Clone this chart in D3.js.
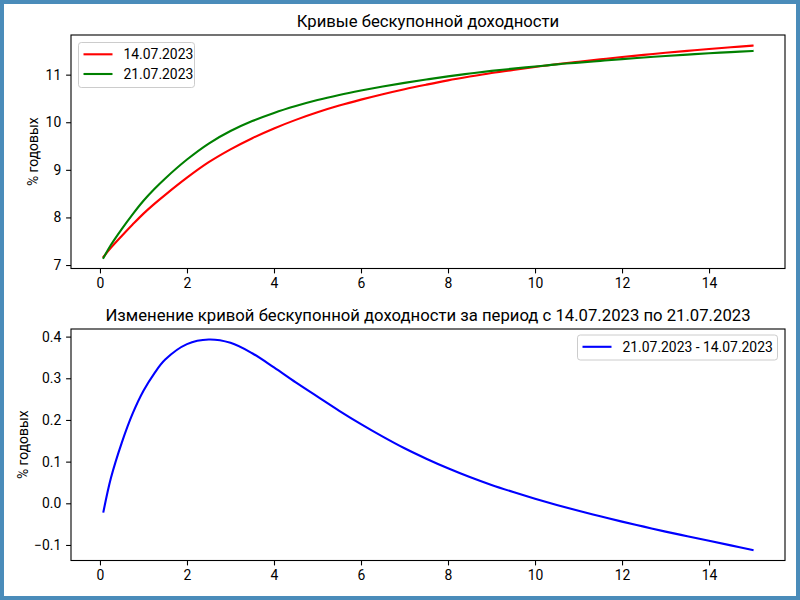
<!DOCTYPE html>
<html><head><meta charset="utf-8">
<script src="https://cdn.jsdelivr.net/npm/d3@7"></script>
<style>
html,body{margin:0;padding:0;background:#fff;}
svg{display:block;font-family:Roboto,"DejaVu Sans",sans-serif;}
</style></head>
<body>
<script>
const terms = [0.08,0.25,0.5,0.75,1.0,1.25,1.5,2.0,2.5,3.0,3.5,4.0,4.5,5.0,5.5,6.0,6.5,7.0,7.5,8.0,8.5,9.0,9.5,10.0,10.5,11.0,11.5,12.0,12.5,13.0,13.5,14.0,14.5,15.0];
const curve14 = [7.17,7.36,7.61,7.85,8.08,8.285,8.475,8.835,9.16,9.43,9.665,9.87,10.05,10.21,10.35,10.475,10.59,10.695,10.79,10.88,10.96,11.035,11.10,11.16,11.22,11.27,11.32,11.37,11.415,11.46,11.50,11.54,11.575,11.61];
const curve21 = [7.15,7.42,7.755,8.065,8.35,8.597,8.82,9.217,9.553,9.815,10.025,10.196,10.34,10.466,10.572,10.665,10.75,10.827,10.897,10.964,11.023,11.079,11.127,11.171,11.216,11.252,11.289,11.326,11.359,11.392,11.421,11.45,11.474,11.498];
const curveDiff = [-0.02,0.06,0.145,0.215,0.27,0.312,0.345,0.382,0.393,0.385,0.36,0.326,0.29,0.256,0.222,0.19,0.16,0.132,0.107,0.084,0.063,0.044,0.027,0.011,-0.004,-0.018,-0.031,-0.044,-0.056,-0.068,-0.079,-0.09,-0.101,-0.112];
const xTicks = [0,2,4,6,8,10,12,14];
const yTicksTop = [7,8,9,10,11];
const yTicksBottom = [-0.1,0.0,0.1,0.2,0.3,0.4];
const labels = ["14.07.2023","21.07.2023","21.07.2023 - 14.07.2023"];
const titles = ["Кривые бескупонной доходности","Изменение кривой бескупонной доходности за период с 14.07.2023 по 21.07.2023"];
const yLabel = "% годовых";

const W=800,H=600;
const svg=d3.select("body").append("svg").attr("width",W).attr("height",H);
svg.append("rect").attr("x",0).attr("y",0).attr("width",W).attr("height",H).attr("fill","#4a8cba");
svg.append("rect").attr("x",4).attr("y",4).attr("width",W-8).attr("height",H-8).attr("fill","#fff");

function padded(ext){const r=ext[1]-ext[0];return [ext[0]-0.05*r,ext[1]+0.05*r];}

function panel(o){
  const g=svg.append("g");
  const x=d3.scaleLinear().domain(padded(d3.extent(terms))).range([o.left,o.right]);
  const allY=[].concat(...o.series.map(s=>s.values));
  const y=d3.scaleLinear().domain(padded(d3.extent(allY))).range([o.bottom,o.top]);
  const fs=13.9;
  const xa=g.append("g").attr("transform",`translate(0,${o.bottom})`)
    .call(d3.axisBottom(x).tickValues(xTicks).tickSize(4.9).tickPadding(4.9).tickFormat(d3.format("d")));
  const ya=g.append("g").attr("transform",`translate(${o.left},0)`)
    .call(d3.axisLeft(y).tickValues(o.yTicks).tickSize(4.9).tickPadding(4.9).tickFormat(o.fmt));
  [xa,ya].forEach(a=>{a.select(".domain").remove();a.selectAll("line").attr("stroke","#000").attr("stroke-width",1.1);
    a.selectAll("text").attr("font-size",fs).attr("fill","#000").attr("font-family","Roboto");});
  const line=d3.line().curve(d3.curveCatmullRom.alpha(0.5));
  o.series.forEach(s=>{
    g.append("path").attr("d",line(terms.map((t,i)=>[x(t),y(s.values[i])])))
      .attr("fill","none").attr("stroke",s.color).attr("stroke-width",2.1).attr("stroke-linecap","square");
  });
  g.append("rect").attr("x",o.left).attr("y",o.top).attr("width",o.right-o.left).attr("height",o.bottom-o.top)
    .attr("fill","none").attr("stroke","#000").attr("stroke-width",1.1);
  g.append("text").attr("x",(o.left+o.right)/2).attr("y",o.top-8.5).attr("text-anchor","middle")
    .attr("font-size",16.7).attr("fill","#000").text(o.title);
  g.append("text").attr("transform",`translate(${o.ylx},${(o.top+o.bottom)/2}) rotate(-90)`)
    .attr("text-anchor","middle").attr("dominant-baseline","central").attr("font-size",fs).attr("fill","#000").text(yLabel);
  const L=o.legend;
  const lg=g.append("g");
  lg.append("rect").attr("x",L.x).attr("y",L.y).attr("width",L.w).attr("height",L.h).attr("rx",2.8)
    .attr("fill","#fff").attr("fill-opacity",0.8).attr("stroke","#cccccc").attr("stroke-width",1);
  o.series.forEach((s,i)=>{
    const cy=L.y+L.first+i*L.step;
    lg.append("line").attr("x1",L.x+5).attr("x2",L.x+34).attr("y1",cy).attr("y2",cy)
      .attr("stroke",s.color).attr("stroke-width",2.1);
    lg.append("text").attr("x",L.x+45).attr("y",cy).attr("dominant-baseline","central")
      .attr("font-size",fs).attr("fill","#000").text(s.label);
  });
}

panel({left:71,right:785,top:35,bottom:268.5,ylx:33,title:titles[0],yTicks:yTicksTop,fmt:d3.format("d"),
  series:[{values:curve14,color:"red",label:labels[0]},{values:curve21,color:"green",label:labels[1]}],
  legend:{x:78.5,y:42.5,w:116,h:45,first:11.8,step:19.7}});
panel({left:71,right:785,top:329,bottom:560.5,ylx:22.5,title:titles[1],yTicks:yTicksBottom,fmt:d3.format(".1f"),
  series:[{values:curveDiff,color:"blue",label:labels[2]}],
  legend:{x:577.5,y:335,w:200,h:25,first:11.8,step:19.7}});
</script>
</body></html>
